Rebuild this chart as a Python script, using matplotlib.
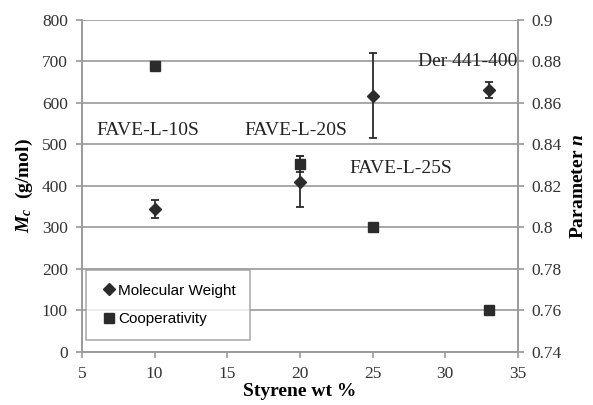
import matplotlib.pyplot as plt
from matplotlib.lines import Line2D
import numpy as np

plt.rcParams['mathtext.fontset'] = 'custom'
plt.rcParams['mathtext.bfit'] = 'Liberation Serif:italic:bold'
plt.rcParams['mathtext.it'] = 'Liberation Serif:italic'
plt.rcParams['mathtext.rm'] = 'Liberation Serif'

# styrene content (wt %)
styrene = [10, 20, 25, 33]
# molecular weight between crosslinks Mc (g/mol) with error
mc = [345, 410, 617, 631]
mc_err = [22, 62, 102, 19]
# cooperativity parameter n
coop = [0.878, 0.8305, 0.80, 0.76]
coop_err = [0, 0.004, 0, 0]
labels = ['FAVE-L-10S', 'FAVE-L-20S', 'FAVE-L-25S', 'Der 441-400']
label_pos = [(6.0, 522), (16.2, 522), (23.4, 432), (28.1, 688)]

serif = 'Liberation Serif'
sans = 'Liberation Sans'
mk = '#2b2b2b'
grid = '#9a9a9a'

fig = plt.figure(figsize=(5.93, 4.05), dpi=100)
ax = fig.add_axes([0.138, 0.131, 0.7355, 0.82])
ax2 = ax.twinx()

ax.set_xlim(5, 35)
ax.set_ylim(0, 800)
ax2.set_ylim(0.74, 0.9)
ax.set_yticks(np.arange(0, 801, 100))
ax.set_xticks(np.arange(5, 36, 5))
ax2.set_yticks(np.arange(0.74, 0.901, 0.02))
ax2.set_yticklabels(['0.74', '0.76', '0.78', '0.8', '0.82', '0.84', '0.86', '0.88', '0.9'])

ax.yaxis.grid(True, color=grid, linewidth=1.2)
ax.set_axisbelow(True)
for a in (ax, ax2):
    for s in a.spines.values():
        s.set_color(grid)
        s.set_linewidth(1.2)
    a.spines['top'].set_visible(False)
    a.tick_params(colors=grid, labelcolor='#333333', labelsize=12.5, length=4, width=1.2, pad=6)
    for t in a.get_xticklabels() + a.get_yticklabels():
        t.set_fontfamily(serif)

ax.errorbar(styrene, mc, yerr=mc_err, fmt='D', color=mk, ms=6, ecolor=mk,
            elinewidth=1.3, capsize=3, capthick=1.3, zorder=5)
ax2.errorbar(styrene, coop, yerr=coop_err, fmt='s', color=mk, ms=7, ecolor=mk,
             elinewidth=1.3, capsize=3, capthick=1.3, zorder=5)

for lab, (px, py) in zip(labels, label_pos):
    ax.text(px, py, lab, fontsize=14, fontfamily=serif, color='#222222', zorder=6)

handles = [Line2D([], [], marker='D', ls='none', color=mk, ms=6),
           Line2D([], [], marker='s', ls='none', color=mk, ms=7)]
leg = ax.legend(handles, ['Molecular Weight', 'Cooperativity'], loc='lower left',
                bbox_to_anchor=(0.01, 0.036), borderaxespad=0, prop={'family': sans, 'size': 11},
                frameon=True, fancybox=False, edgecolor=grid, handletextpad=0.0,
                handlelength=1.2, borderpad=0.9, labelspacing=0.95)
leg.get_frame().set_linewidth(1.2)

ax.set_xlabel('Styrene wt %', fontsize=14, fontweight='bold', fontfamily=serif, labelpad=1)
ax.set_ylabel(r'$\mathbfit{M}_\mathbfit{c}$  (g/mol)', fontsize=14, fontweight='bold',
              fontfamily=serif, labelpad=5)
ax2.set_ylabel(r'Parameter $\mathbfit{n}$', fontsize=14, fontweight='bold',
               fontfamily=serif, labelpad=6)

fig.savefig('out.png', dpi=100)
